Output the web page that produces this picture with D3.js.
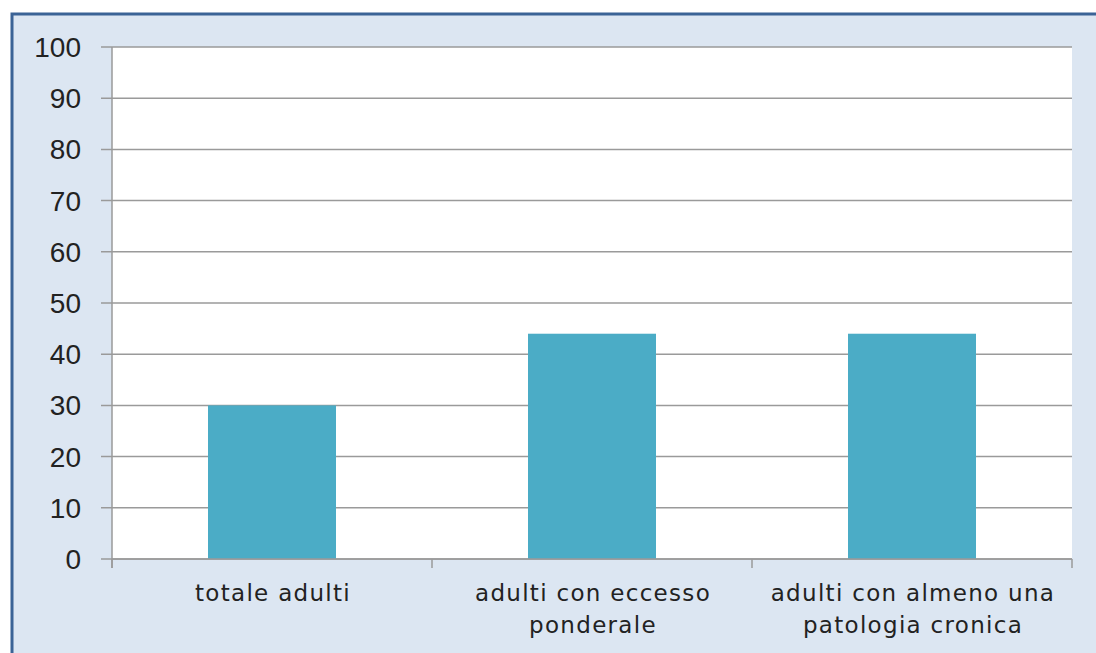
<!DOCTYPE html>
<html>
<head>
<meta charset="utf-8">
<script src="https://cdn.jsdelivr.net/npm/d3@7"></script>
<style>
  body { margin: 0; background: #fff; }
  svg { display: block; }
</style>
</head>
<body>
<script>
var categories = [["totale adulti"], ["adulti con eccesso", "ponderale"], ["adulti con almeno una", "patologia cronica"]]
var values = [30, 44, 44]
var yTicks = [0, 10, 20, 30, 40, 50, 60, 70, 80, 90, 100]

var screen = {width: 1096, height: 653}
var plot = {left: 112, right: 1072, top: 47, bottom: 559}

var svg = d3.select("body")
            .append("svg")
            .attr("width", screen.width)
            .attr("height", screen.height)

// background panel with blue frame on left/top
svg.append("rect")
   .attr("x", 12).attr("y", 14)
   .attr("width", 1200).attr("height", 800)
   .attr("fill", "#dce6f2")
   .attr("stroke", "#3b6396")
   .attr("stroke-width", 3)

svg.append("rect")
   .attr("x", plot.left).attr("y", plot.top)
   .attr("width", plot.right - plot.left)
   .attr("height", plot.bottom - plot.top)
   .attr("fill", "#ffffff")

var x = d3.scaleBand()
          .domain(d3.range(categories.length))
          .range([plot.left, plot.right])

var y = d3.scaleLinear()
          .domain([0, 100])
          .range([plot.bottom, plot.top])

// gridlines + left ticks
svg.selectAll(".grid")
   .data(yTicks)
   .enter()
   .append("line")
   .attr("class", "grid")
   .attr("x1", plot.left - 11)
   .attr("x2", plot.right)
   .attr("y1", function(d) {return y(d)})
   .attr("y2", function(d) {return y(d)})
   .attr("stroke", "#9a9a9a")
   .attr("stroke-width", 1.5)

svg.selectAll(".ylab")
   .data(yTicks)
   .enter()
   .append("text")
   .attr("class", "ylab")
   .attr("x", 81)
   .attr("y", function(d) {return y(d) + 10})
   .attr("text-anchor", "end")
   .attr("font-family", "Liberation Sans, Arial, sans-serif")
   .attr("font-size", 28)
   .attr("fill", "#222")
   .text(function(d) {return d})

// bars
var barW = x.bandwidth() * 0.4
svg.selectAll(".bar")
   .data(values)
   .enter()
   .append("rect")
   .attr("class", "bar")
   .attr("x", function(d, i) {return x(i) + x.bandwidth()/2 - barW/2})
   .attr("y", function(d) {return y(d)})
   .attr("width", barW)
   .attr("height", function(d) {return y(0) - y(d)})
   .attr("fill", "#4bacc6")

// axes lines
svg.append("line")
   .attr("x1", plot.left).attr("x2", plot.left)
   .attr("y1", plot.top).attr("y2", plot.bottom + 9)
   .attr("stroke", "#9a9a9a").attr("stroke-width", 1.5)

svg.append("line")
   .attr("x1", plot.left).attr("x2", plot.right)
   .attr("y1", plot.bottom).attr("y2", plot.bottom)
   .attr("stroke", "#9a9a9a").attr("stroke-width", 1.5)

var bounds = d3.range(categories.length + 1).map(function(i) {
  return i < categories.length ? x(i) : x(i - 1) + x.bandwidth()
})
svg.selectAll(".xtick")
   .data(bounds)
   .enter()
   .append("line")
   .attr("class", "xtick")
   .attr("x1", function(d) {return d})
   .attr("x2", function(d) {return d})
   .attr("y1", plot.bottom)
   .attr("y2", plot.bottom + 9)
   .attr("stroke", "#9a9a9a")
   .attr("stroke-width", 1.5)

// category labels
var labels = svg.selectAll(".xlab")
   .data(categories)
   .enter()
   .append("text")
   .attr("class", "xlab")
   .attr("text-anchor", "middle")
   .attr("font-family", "DejaVu Sans, sans-serif")
   .attr("font-size", 23)
   .attr("letter-spacing", 1.3)
   .attr("fill", "#222")

labels.selectAll("tspan")
   .data(function(d, i) {return d.map(function(t) {return {t: t, i: i}})})
   .enter()
   .append("tspan")
   .attr("x", function(d) {return x(d.i) + x.bandwidth()/2 + 1})
   .attr("y", function(d, j) {return 601 + j*32})
   .text(function(d) {return d.t})
</script>
</body>
</html>
